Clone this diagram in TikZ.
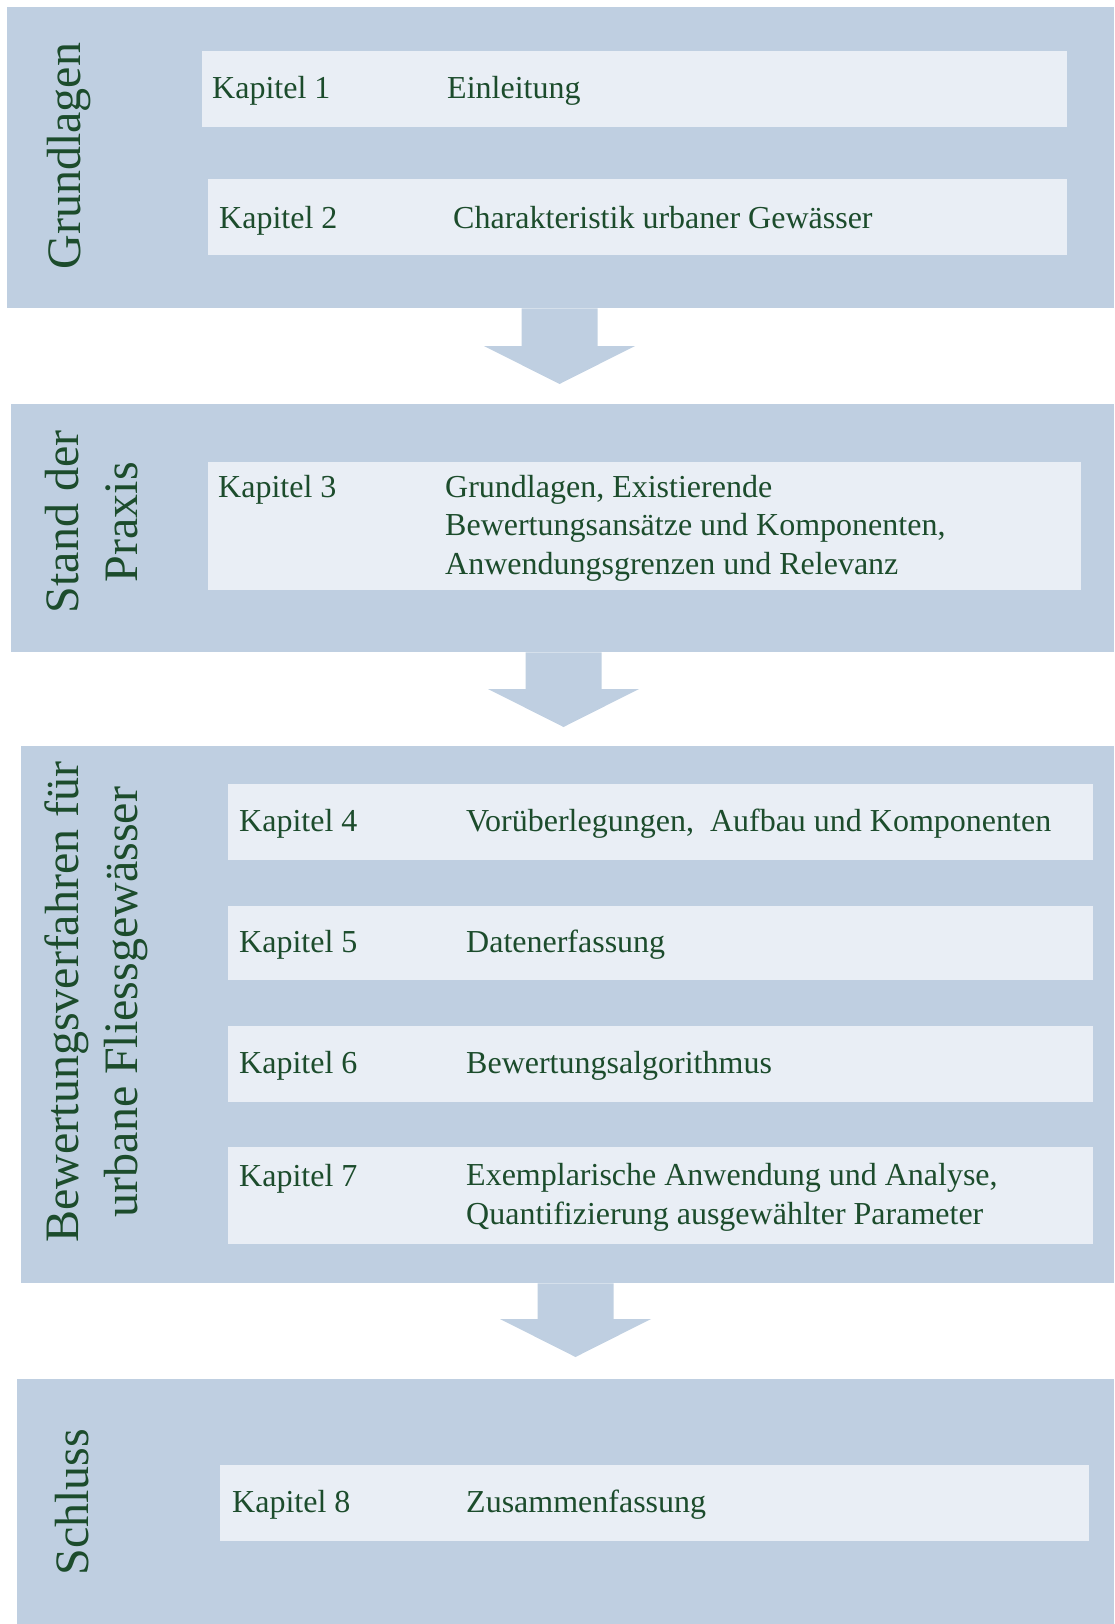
\documentclass[tikz,border=0pt]{standalone}
\usepackage{fontspec}
\setmainfont{Liberation Serif}
\usetikzlibrary{calc}

\definecolor{panelblue}{RGB}{191,207,225}
\definecolor{boxblue}{RGB}{233,238,245}
\definecolor{textgreen}{RGB}{28,76,44}

\tikzset{
  panel/.style={fill=panelblue, draw=none, inner sep=0pt, anchor=north west},
  chapbox/.style={fill=boxblue, draw=none, inner sep=0pt, anchor=north west},
  heading/.style={text=textgreen, inner sep=0pt, rotate=90, align=center,
    anchor=base, font=\fontsize{48}{59}\selectfont},
  chaplabel/.style={text=textgreen, inner sep=0pt, anchor=base west,
    font=\fontsize{32}{39}\selectfont},
  chaptext/.style={text=textgreen, inner sep=0pt, anchor=base west, align=left,
    font=\fontsize{32}{38.5}\selectfont},
}

% block arrow from the bottom of a panel down to a tip coordinate
\newcommand\flowarrow[2]{%
  \fill[panelblue]
    ($(#1.south -| #2)+(-38,0)$) -- ($(#2)+(-38,-38)$) -- ($(#2)+(-75.5,-38)$)
    -- (#2) -- ($(#2)+(75.5,-38)$) -- ($(#2)+(38,-38)$)
    -- ($(#1.south -| #2)+(38,0)$) -- cycle;}

\begin{document}
\begin{tikzpicture}[x=1pt, y=-1pt]
\useasboundingbox (0,0) rectangle (1115,1624);

% panels
\node[panel, minimum width=1107pt, minimum height=301pt] (p1) at (7,7) {};
\node[panel, minimum width=1103pt, minimum height=248pt] (p2) at (11,404) {};
\node[panel, minimum width=1093pt, minimum height=537pt] (p3) at (21,746) {};
\node[panel, minimum width=1097pt, minimum height=245pt] (p4) at (17,1379) {};

% arrows between panels
\coordinate (t1) at (559.5,384);
\coordinate (t2) at (563.5,727);
\coordinate (t3) at (575.5,1357);
\flowarrow{p1}{t1}
\flowarrow{p2}{t2}
\flowarrow{p3}{t3}

% chapter boxes
\node[chapbox, minimum width=865pt, minimum height=76pt] (k1) at (202,51) {};
\node[chapbox, minimum width=859pt, minimum height=76pt] (k2) at (208,179) {};
\node[chapbox, minimum width=873pt, minimum height=128pt] (k3) at (208,462) {};
\node[chapbox, minimum width=865pt, minimum height=76pt] (k4) at (228,784) {};
\node[chapbox, minimum width=865pt, minimum height=74pt] (k5) at (228,906) {};
\node[chapbox, minimum width=865pt, minimum height=76pt] (k6) at (228,1026) {};
\node[chapbox, minimum width=865pt, minimum height=97pt] (k7) at (228,1147) {};
\node[chapbox, minimum width=869pt, minimum height=76pt] (k8) at (220,1465) {};

% section headings (base = baseline of the last line)
\node[heading] (h1) at (80,156) {Grundlagen};
\node[heading] (h2) at (137,522) {Stand der\\Praxis};
\node[heading] (h3) at (137,1002) {Bewertungsverfahren für\\urbane Fliessgewässer};
\node[heading] (h4) at (88,1502) {Schluss};

% chapter labels and titles
\node[chaplabel] (l1) at (212,99) {Kapitel 1};
\node[chaptext] (d1) at (447,99) {Einleitung};
\node[chaplabel] (l2) at (219,228) {Kapitel 2};
\node[chaptext] (d2) at (453,228) {Charakteristik urbaner Gewässer};
\node[chaplabel] (l3) at (218,497) {Kapitel 3};
\node[chaptext] (d3) at (445,574) {Grundlagen, Existierende\\Bewertungsansätze und Komponenten,\\Anwendungsgrenzen und Relevanz};
\node[chaplabel] (l4) at (239,831) {Kapitel 4};
\node[chaptext] (d4) at (466,831) {Vorüberlegungen,\ \ Aufbau und Komponenten};
\node[chaplabel] (l5) at (239,952) {Kapitel 5};
\node[chaptext] (d5) at (466,952) {Datenerfassung};
\node[chaplabel] (l6) at (239,1073) {Kapitel 6};
\node[chaptext] (d6) at (466,1073) {Bewertungsalgorithmus};
\node[chaplabel] (l7) at (239,1186) {Kapitel 7};
\node[chaptext] (d7) at (466,1224) {Exemplarische Anwendung und Analyse,\\Quantifizierung ausgewählter Parameter};
\node[chaplabel] (l8) at (232,1512) {Kapitel 8};
\node[chaptext] (d8) at (466,1512) {Zusammenfassung};
\end{tikzpicture}
\end{document}
